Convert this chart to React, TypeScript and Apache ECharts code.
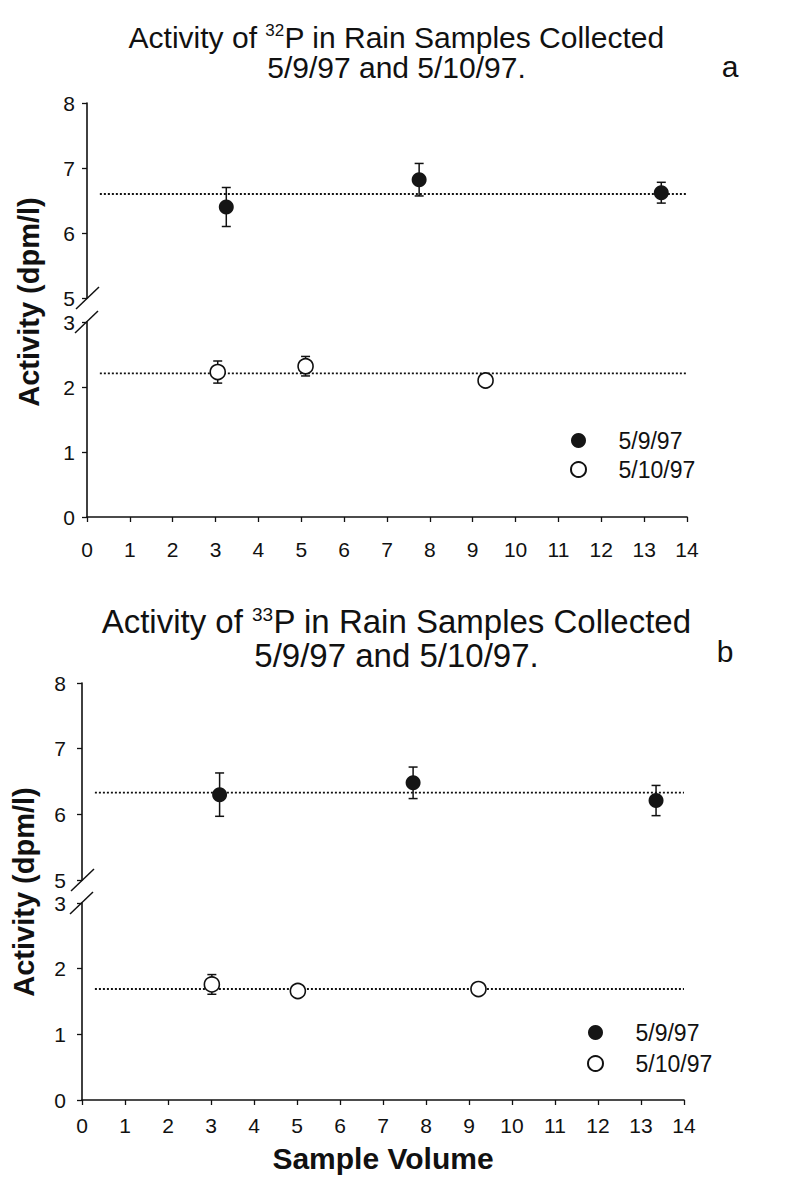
import React, { useEffect, useRef } from "react";
import * as echarts from "echarts";

const FONT = '"Liberation Sans", Arial, Helvetica, sans-serif';
const INK = "#111111";

// ---------- data ----------
const seriesNames = ["5/9/97", "5/10/97"];

// Panel a : 32P
const a_may9_x = [3.25, 7.75, 13.4];
const a_may9_y = [6.4, 6.82, 6.62];
const a_may9_err = [0.3, 0.25, 0.16];
const a_may10_x = [3.05, 5.1, 9.3];
const a_may10_y = [2.23, 2.32, 2.1];
const a_may10_err = [0.17, 0.15, 0];
const a_means = [6.6, 2.21];

// Panel b : 33P
const b_may9_x = [3.2, 7.7, 13.35];
const b_may9_y = [6.3, 6.48, 6.21];
const b_may9_err = [0.33, 0.24, 0.23];
const b_may10_x = [3.02, 5.02, 9.22];
const b_may10_y = [1.76, 1.66, 1.69];
const b_may10_err = [0.15, 0, 0];
const b_means = [6.33, 1.69];

const meanLineX = [0.3, 14];
const xRange = [0, 14];
const yUpperRange = [5, 8];
const yLowerRange = [0, 3];

// ---------- helpers ----------
const pts = (xs: number[], ys: number[]) => xs.map((x, i) => [x, ys[i]]);
const errs = (xs: number[], ys: number[], es: number[]) =>
  xs
    .map((x, i) => [x, ys[i] - es[i], ys[i] + es[i], es[i]])
    .filter((d) => d[3] > 0);

const renderErr = (_params: any, api: any) => {
  const x = api.value(0);
  const lo = api.value(1);
  const hi = api.value(2);
  const p1 = api.coord([x, hi]);
  const p2 = api.coord([x, lo]);
  const cap = 4.5;
  const st = { stroke: INK, lineWidth: 1.5 };
  return {
    type: "group",
    children: [
      { type: "line", shape: { x1: p1[0], y1: p1[1], x2: p2[0], y2: p2[1] }, style: st },
      { type: "line", shape: { x1: p1[0] - cap, y1: p1[1], x2: p1[0] + cap, y2: p1[1] }, style: st },
      { type: "line", shape: { x1: p2[0] - cap, y1: p2[1], x2: p2[0] + cap, y2: p2[1] }, style: st },
    ],
  };
};

function panelSeries(
  up: number,
  low: number,
  fx: number[],
  fy: number[],
  fe: number[],
  ox: number[],
  oy: number[],
  oe: number[],
  means: number[]
) {
  const dotted = { type: [2, 2], width: 1.8, color: INK };
  return [
    {
      type: "line",
      xAxisIndex: up,
      yAxisIndex: up,
      data: meanLineX.map((x) => [x, means[0]]),
      symbol: "none",
      silent: true,
      z: 1,
      lineStyle: dotted,
    },
    {
      type: "line",
      xAxisIndex: low,
      yAxisIndex: low,
      data: meanLineX.map((x) => [x, means[1]]),
      symbol: "none",
      silent: true,
      z: 1,
      lineStyle: dotted,
    },
    {
      type: "custom",
      xAxisIndex: up,
      yAxisIndex: up,
      data: errs(fx, fy, fe),
      renderItem: renderErr,
      encode: { x: 0, y: [1, 2] },
      silent: true,
      z: 2,
    },
    {
      type: "custom",
      xAxisIndex: low,
      yAxisIndex: low,
      data: errs(ox, oy, oe),
      renderItem: renderErr,
      encode: { x: 0, y: [1, 2] },
      silent: true,
      z: 2,
    },
    {
      type: "scatter",
      name: seriesNames[0],
      xAxisIndex: up,
      yAxisIndex: up,
      data: pts(fx, fy),
      symbol: "circle",
      symbolSize: 15,
      itemStyle: { color: "#151515", opacity: 1 },
      z: 3,
    },
    {
      type: "scatter",
      name: seriesNames[1],
      xAxisIndex: low,
      yAxisIndex: low,
      data: pts(ox, oy),
      symbol: "circle",
      symbolSize: 15,
      itemStyle: { color: "#ffffff", borderColor: INK, borderWidth: 1.6, opacity: 1 },
      z: 3,
    },
  ];
}

const axisLine = { show: true, onZero: false, lineStyle: { color: INK, width: 1.6 } };
const axisTick = { show: true, length: 5, lineStyle: { color: INK, width: 1.3 } };

function xAxisUpper(g: number) {
  return { gridIndex: g, type: "value", min: xRange[0], max: xRange[1], interval: 1, show: false };
}
function xAxisLower(g: number, margin: number, name?: string) {
  return {
    gridIndex: g,
    type: "value",
    min: xRange[0],
    max: xRange[1],
    interval: 1,
    axisLine,
    axisTick,
    splitLine: { show: false },
    axisLabel: { fontSize: 21, color: INK, fontFamily: FONT, margin },
    name: name || "",
    nameLocation: "middle",
    nameGap: 43,
    nameTextStyle: { fontSize: 30, fontWeight: "bold", color: INK, fontFamily: FONT },
  };
}
function yAxis(g: number, range: number[], margin: number) {
  return {
    gridIndex: g,
    type: "value",
    min: range[0],
    max: range[1],
    interval: 1,
    axisLine,
    axisTick,
    splitLine: { show: false },
    axisLabel: { fontSize: 21, color: INK, fontFamily: FONT, margin },
  };
}

function titleLines(top1: number, top2: number, sup: string, size: number) {
  return [
    {
      text: `{n|Activity of }{s|${sup}}{n|P in Rain Samples Collected}`,
      left: "center",
      top: top1,
      padding: 0,
      textStyle: {
        fontWeight: "normal",
        rich: {
          n: { fontSize: size, fontWeight: "normal", fontFamily: FONT, color: INK },
          s: {
            fontSize: Math.round(size * 0.58),
            fontWeight: "normal",
            fontFamily: FONT,
            color: INK,
            verticalAlign: "top",
          },
        },
      },
    },
    {
      text: "5/9/97 and 5/10/97.",
      left: "center",
      top: top2,
      padding: 0,
      textStyle: { fontSize: size, fontWeight: "normal", fontFamily: FONT, color: INK },
    },
  ];
}

function breakMarks(ax: number, yA: number, yB: number) {
  const st = { stroke: INK, lineWidth: 1.5 };
  return [
    { type: "line", shape: { x1: ax - 11, y1: yA + 11, x2: ax + 12, y2: yA - 11 }, style: st },
    { type: "line", shape: { x1: ax - 12, y1: yB + 11, x2: ax + 11, y2: yB - 11 }, style: st },
  ];
}

function vLabel(x: number, y: number) {
  return {
    type: "text",
    x,
    y,
    rotation: Math.PI / 2,
    style: {
      text: "Activity (dpm/l)",
      fontSize: 29,
      fontWeight: "bold",
      fontFamily: FONT,
      fill: INK,
      align: "center",
      verticalAlign: "middle",
      textAlign: "center",
      textVerticalAlign: "middle",
    },
  };
}

function letter(x: number, y: number, t: string) {
  return {
    type: "text",
    x,
    y,
    style: {
      text: t,
      fontSize: 30,
      fontFamily: FONT,
      fill: INK,
      align: "center",
      verticalAlign: "middle",
      textAlign: "center",
      textVerticalAlign: "middle",
    },
  };
}

const legendBase = {
  data: seriesNames,
  orient: "vertical",
  padding: 0,
  itemWidth: 70,
  itemHeight: 15,
  selectedMode: false,
  textStyle: { fontSize: 23, lineHeight: 22, color: INK, fontFamily: FONT },
};

const option: any = {
  animation: false,
  backgroundColor: "#ffffff",
  title: [...titleLines(22, 52, "32", 30), ...titleLines(605, 639, "33", 33)],
  grid: [
    { left: 87, top: 103, width: 600, height: 195 },
    { left: 87, top: 322, width: 600, height: 195 },
    { left: 82, top: 683, width: 602, height: 197 },
    { left: 82, top: 903, width: 602, height: 197 },
  ],
  xAxis: [xAxisUpper(0), xAxisLower(1, 22), xAxisUpper(2), xAxisLower(3, 15, "Sample Volume")],
  yAxis: [
    yAxis(0, yUpperRange, 12),
    yAxis(1, yLowerRange, 12),
    yAxis(2, yUpperRange, 16),
    yAxis(3, yLowerRange, 16),
  ],
  legend: [
    { ...legendBase, left: 570, top: 429, itemGap: 6 },
    { ...legendBase, left: 587, top: 1021, itemGap: 8 },
  ],
  graphic: [
    vLabel(29, 302),
    vLabel(24, 892),
    ...breakMarks(87, 298, 322),
    ...breakMarks(82, 880, 903),
    letter(730, 66, "a"),
    letter(725, 651, "b"),
  ],
  series: [
    ...panelSeries(0, 1, a_may9_x, a_may9_y, a_may9_err, a_may10_x, a_may10_y, a_may10_err, a_means),
    ...panelSeries(2, 3, b_may9_x, b_may9_y, b_may9_err, b_may10_x, b_may10_y, b_may10_err, b_means),
  ],
};

export default function App() {
  const ref = useRef<HTMLDivElement>(null);
  useEffect(() => {
    if (!ref.current) return;
    const chart = echarts.init(ref.current, null, { renderer: "svg" });
    chart.setOption(option);
    return () => chart.dispose();
  }, []);
  return (
    <div
      ref={ref}
      style={{ position: "absolute", left: 0, top: 0, width: 793, height: 1191, background: "#fff" }}
    />
  );
}
